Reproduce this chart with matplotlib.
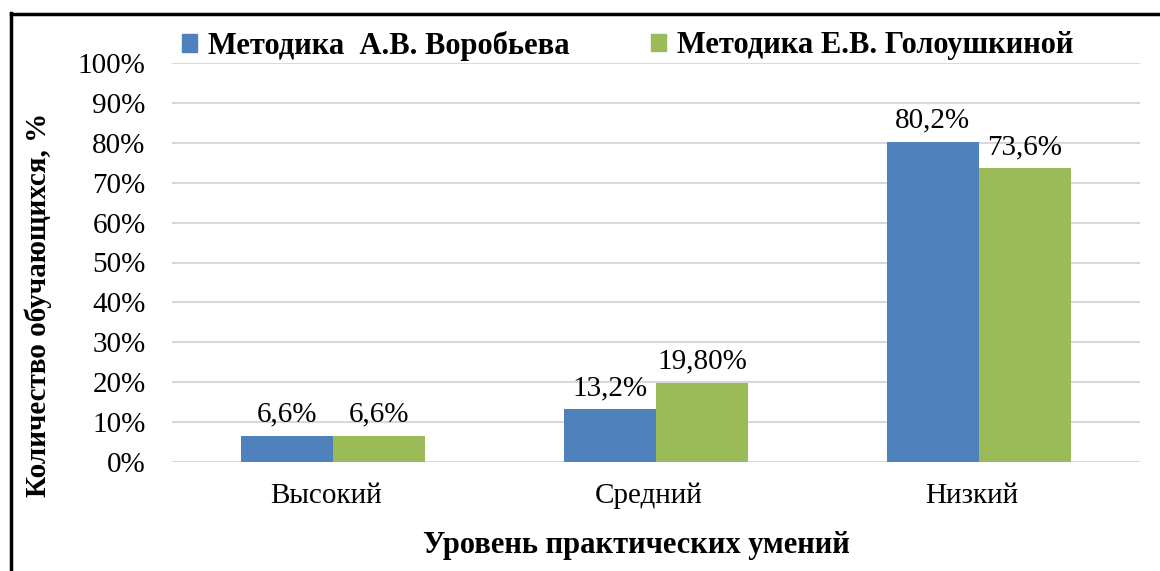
import matplotlib
matplotlib.use("Agg")
import matplotlib.pyplot as plt
from matplotlib.lines import Line2D
from matplotlib.patches import Rectangle
import matplotlib.transforms as mtransforms
import numpy as np

categories = ["Высокий", "Средний", "Низкий"]
series_names = ["Методика  А.В. Воробьева", "Методика Е.В. Голоушкиной"]
vorobyeva = [6.6, 13.2, 80.2]
goloushkina = [6.6, 19.8, 73.6]
labels_vorobyeva = ["6,6%", "13,2%", "80,2%"]
labels_goloushkina = ["6,6%", "19,80%", "73,6%"]
yticks = [0, 10, 20, 30, 40, 50, 60, 70, 80, 90, 100]
ytick_labels = [f"{v}%" for v in yticks]
colors = ["#4F81BD", "#9BBB59"]

plt.rcParams['font.family'] = ['Liberation Serif', 'DejaVu Serif']

W, H = 1160, 571
fig = plt.figure(figsize=(W/100, H/100), dpi=100)
ax = fig.add_axes([172/W, 1-462/H, (1140-172)/W, (462-63)/H])

x = np.arange(len(categories))
w = 0.285
b1 = ax.bar(x - w/2, vorobyeva, w, color=colors[0], zorder=3)
b2 = ax.bar(x + w/2, goloushkina, w, color=colors[1], zorder=3)

for bars, labs in ((b1, labels_vorobyeva), (b2, labels_goloushkina)):
    for rect, lab in zip(bars, labs):
        ax.annotate(lab, (rect.get_x() + rect.get_width()/2, rect.get_height()),
                    xytext=(0, 6), textcoords='offset points', ha='center', va='bottom',
                    fontsize=21, zorder=4)

ax.set_xlim(-0.5, 2.5)
ax.set_ylim(0, 100)
ax.set_yticks(yticks)
ax.set_yticklabels(ytick_labels, fontsize=21)
ax.set_xticks(x)
ax.set_xticklabels(categories, fontsize=21)
ax.tick_params(axis='both', length=0)
ax.tick_params(axis='y', pad=19)
ax.tick_params(axis='x', pad=15)
shift = mtransforms.ScaledTranslation(-7/100, 0, fig.dpi_scale_trans)
for lbl in ax.get_xticklabels():
    lbl.set_transform(lbl.get_transform() + shift)
ax.yaxis.grid(True, color='#D9D9D9', linewidth=1.5, zorder=0)
for s in ax.spines.values():
    s.set_visible(False)
ax.set_axisbelow(True)

fig.text(636/W, 1-545/H, "Уровень практических умений", fontsize=22, fontweight='bold',
         ha='center', va='center')
fig.text(38/W, 1-305/H, "Количество обучающихся, %", rotation=90, fontsize=21,
         fontweight='bold', ha='center', va='center')

starts = [182, 651]
for c, name, sx in zip(colors, series_names, starts):
    fig.legend([Rectangle((0, 0), 1, 1, color=c)], [name], loc='center left',
               bbox_to_anchor=(sx/W, 1-46/H), frameon=False,
               prop={'size': 22, 'weight': 'bold'}, handlelength=0.5, handleheight=0.5,
               handletextpad=0.35, borderaxespad=0, borderpad=0)

# border frame (left and top)
fig.add_artist(Line2D([10.5/W, 10.5/W], [0, 1-13/H], color='black', linewidth=2.5,
                      transform=fig.transFigure))
fig.add_artist(Line2D([10.5/W, 1], [1-14/H, 1-14/H], color='black', linewidth=2.5,
                      transform=fig.transFigure))

fig.savefig("out.png", dpi=100, facecolor='white')
